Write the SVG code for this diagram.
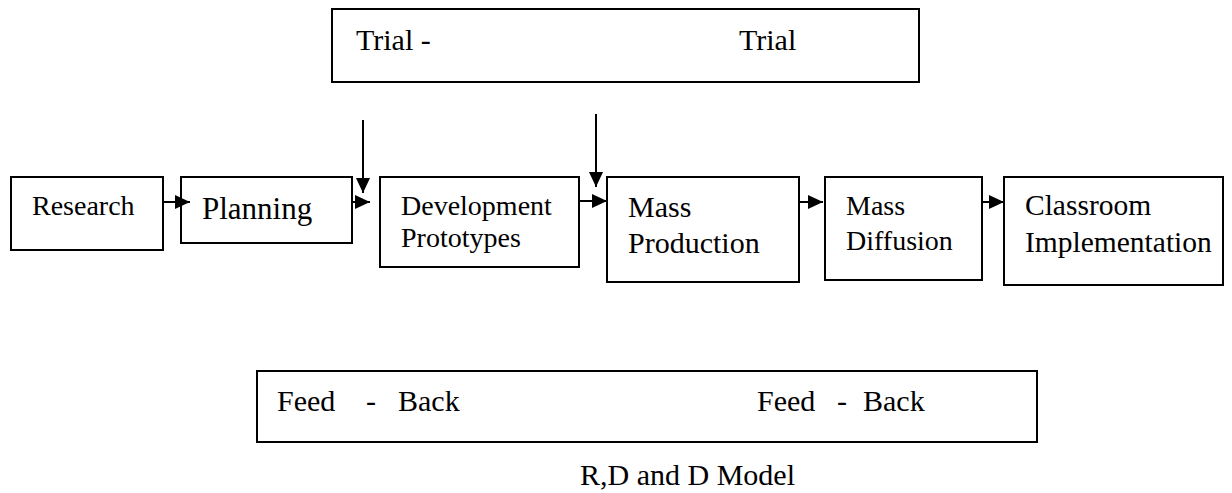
<svg xmlns="http://www.w3.org/2000/svg" width="1232" height="493" viewBox="0 0 1232 493">
  <style>
    .box { fill: #ffffff; stroke: #000000; stroke-width: 2; }
    .lbl { font-family: "Liberation Serif", "Times New Roman", serif; fill: #000000; }
    .conn { stroke: #000000; stroke-width: 2; fill: none; }
  </style>
  <defs>
    <marker id="head" markerUnits="userSpaceOnUse" markerWidth="16" markerHeight="14" refX="15" refY="7" orient="auto">
      <path d="M0,0 L15,7 L0,14 Z" fill="#000000"/>
    </marker>
  </defs>
  <rect width="1232" height="493" fill="#ffffff"/>

  <!-- top band -->
  <g id="trial">
    <rect class="box" x="332" y="9" width="587" height="73"/>
    <text class="lbl" font-size="30" x="356" y="50">Trial -</text>
    <text class="lbl" font-size="30" x="739" y="50">Trial</text>
  </g>

  <!-- process chain -->
  <g id="research">
    <rect class="box" x="11" y="177" width="152" height="73"/>
    <text class="lbl" font-size="28" x="32" y="215">Research</text>
  </g>
  <g id="planning">
    <rect class="box" x="181" y="177" width="171" height="66"/>
    <text class="lbl" font-size="31" x="202" y="219">Planning</text>
  </g>
  <g id="development">
    <rect class="box" x="380" y="177" width="199" height="90"/>
    <text class="lbl" font-size="28" x="401" y="215">Development</text>
    <text class="lbl" font-size="28" x="401" y="247">Prototypes</text>
  </g>
  <g id="mass-production">
    <rect class="box" x="607" y="177" width="192" height="105"/>
    <text class="lbl" font-size="30" x="628" y="217">Mass</text>
    <text class="lbl" font-size="30" x="628" y="253">Production</text>
  </g>
  <g id="mass-diffusion">
    <rect class="box" x="825" y="177" width="157" height="103"/>
    <text class="lbl" font-size="28" x="846" y="215">Mass</text>
    <text class="lbl" font-size="28" x="846" y="250">Diffusion</text>
  </g>
  <g id="classroom">
    <rect class="box" x="1004" y="177" width="219" height="108"/>
    <text class="lbl" font-size="29.5" x="1025" y="215">Classroom</text>
    <text class="lbl" font-size="29.5" x="1025" y="252">Implementation</text>
  </g>

  <!-- bottom band -->
  <g id="feedback">
    <rect class="box" x="257" y="371" width="780" height="71"/>
    <text class="lbl" font-size="30" y="411"><tspan x="277">Feed</tspan><tspan x="366">-</tspan><tspan x="398">Back</tspan></text>
    <text class="lbl" font-size="30" y="411"><tspan x="757">Feed</tspan><tspan x="837">-</tspan><tspan x="863">Back</tspan></text>
  </g>

  <g id="caption">
    <text class="lbl" font-size="30" x="580" y="485">R,D and D  Model</text>
  </g>

  <g id="connectors">
    <line class="conn" x1="163" y1="202" x2="190" y2="202" marker-end="url(#head)"/>
    <line class="conn" x1="352" y1="202" x2="370" y2="202" marker-end="url(#head)"/>
    <line class="conn" x1="579" y1="201" x2="607" y2="201" marker-end="url(#head)"/>
    <line class="conn" x1="799" y1="202" x2="823" y2="202" marker-end="url(#head)"/>
    <line class="conn" x1="982" y1="202" x2="1004" y2="202" marker-end="url(#head)"/>
    <line class="conn" x1="363" y1="120" x2="363" y2="193" marker-end="url(#head)"/>
    <line class="conn" x1="596" y1="114" x2="596" y2="187" marker-end="url(#head)"/>
  </g>
</svg>
